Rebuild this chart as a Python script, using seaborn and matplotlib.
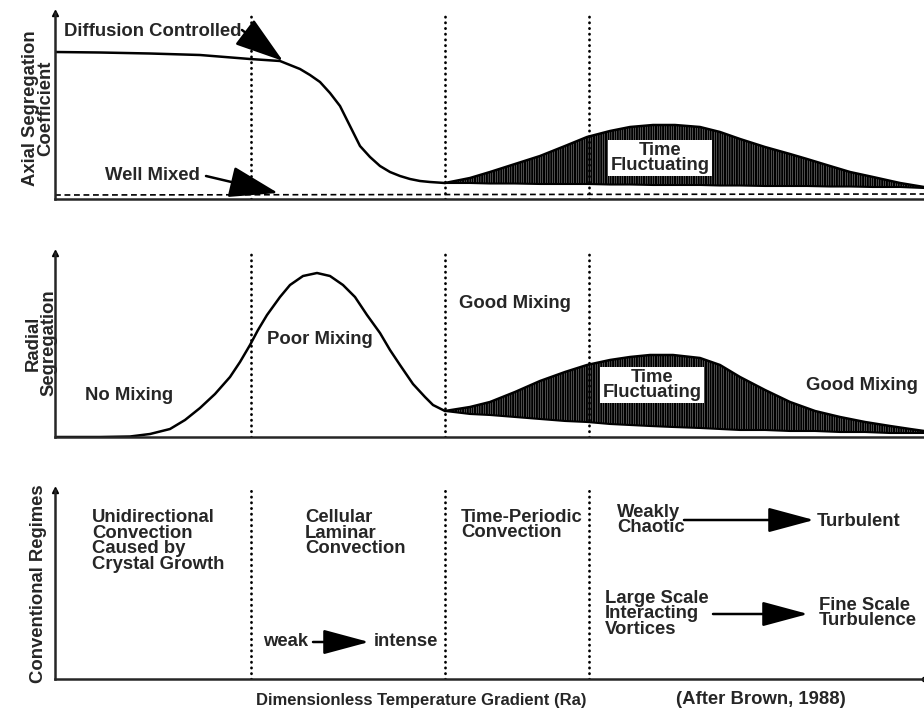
import numpy as np
import pandas as pd
import seaborn as sns
import matplotlib.pyplot as plt

sns.set_style('white')
plt.rcParams['font.family'] = ['Liberation Sans', 'DejaVu Sans']
plt.rcParams['font.weight'] = 'bold'
plt.rcParams['hatch.linewidth'] = 1.5

# --- data (x = Ra position, y = height above each baseline) ---
axial_x = [55, 100, 150, 200, 250, 280, 300, 310, 320, 330, 340, 345, 350, 355, 360,
           370, 380, 390, 400, 410, 420, 430, 445]
axial_y = [147, 146.5, 145.5, 144, 140, 138, 130, 124, 117, 106, 93, 83, 73, 63, 53,
           42, 33, 27, 23, 20, 18, 17, 16]
well_mixed_x = [55, 924]
well_mixed_y = [4, 5]

axial_fluct_x = [445, 470, 490, 515, 540, 565, 587, 610, 630, 653, 675, 700, 720, 740,
                 765, 790, 807, 830, 850, 873, 900, 924]
axial_fluct_hi = [16, 21, 27, 35, 43, 53, 62, 68, 72, 74, 74, 72, 67, 60, 52, 45, 40,
                  33, 27, 22, 16, 12]
axial_fluct_lo = [16, 16, 15.5, 15.5, 15, 15, 15, 14.5, 14.5, 14, 14, 14, 13.5, 13.5,
                  13, 13, 13, 12.5, 12.5, 12, 12, 11]

radial_x = [55, 100, 130, 150, 170, 185, 200, 215, 230, 240, 250, 258, 267, 280, 290,
            303, 317, 330, 343, 355, 367, 380, 390, 400, 413, 425, 433, 445]
radial_y = [0, 0, 0.5, 3, 8, 17, 29, 43, 60, 75, 92, 107, 122, 140, 152, 161, 164, 161,
            152, 140, 122, 104, 87, 72, 53, 40, 32, 26]

radial_fluct_x = [445, 470, 490, 515, 540, 565, 587, 610, 630, 650, 673, 700, 720, 740,
                  765, 790, 815, 840, 865, 890, 910, 924]
radial_fluct_hi = [26, 30, 35, 45, 56, 65, 72, 77, 80, 82, 82, 79, 72, 60, 47, 35, 26,
                   20, 15, 11, 8, 6]
radial_fluct_lo = [26, 23, 22, 20, 18, 16, 15, 13, 12, 11, 10, 9, 8, 7, 7, 6, 6, 5, 5,
                   4, 4, 4]

regime_bounds = [251, 445, 589]

# panels: (baseline pixel, top pixel)
panels = {'axial': (199, 13), 'radial': (437, 253), 'regime': (679, 490)}

W, H = 924, 709
fig = plt.figure(figsize=(W / 100, H / 100), dpi=100)

axes = {}
for name, (base, top) in panels.items():
    ax = fig.add_axes([55 / W, (H - base) / H, (W - 55) / W, (base - top) / H])
    ax.set_xlim(55, 924)
    ax.set_ylim(0, base - top)
    sns.despine(ax=ax)
    ax.spines['left'].set_linewidth(1.8)
    ax.spines['bottom'].set_linewidth(1.8)
    ax.set_xticks([])
    ax.set_yticks([])
    ax.patch.set_alpha(0)
    ax.plot([55], [base - top], marker='^', ms=5, color='k', clip_on=False)
    for xb in regime_bounds:
        ax.axvline(xb, color='k', lw=2, ls=(0, (0.1, 1.95)), dash_capstyle='round')
    axes[name] = ax


def txt(name, x, py, s, **kw):
    base = panels[name][0]
    kw.setdefault('fontsize', 13.3)
    kw.setdefault('va', 'center')
    kw.setdefault('linespacing', 0.88)
    return axes[name].text(x, base - py, s, fontweight='bold', **kw)


def arrow(name, x0, py0, x1, py1, hl=1.4, hw=0.45, ms=22):
    base = panels[name][0]
    axes[name].annotate('', xy=(x1, base - py1), xytext=(x0, base - py0),
                        arrowprops=dict(arrowstyle=f'-|>,head_length={hl},head_width={hw}',
                                        mutation_scale=ms, lw=1.8, color='k',
                                        shrinkA=0, shrinkB=0))


def fluct(ax, x, lo, hi):
    ax.fill_between(x, lo, hi, facecolor='white', edgecolor='k',
                    hatch='|||||||', linewidth=0)
    ax.plot(x, hi, color='k', lw=1.8)
    ax.plot(x, lo, color='k', lw=1.5)


# --- top panel: axial segregation ---
ax = axes['axial']
sns.lineplot(x=axial_x, y=axial_y, ax=ax, color='k', lw=1.8)
sns.lineplot(x=well_mixed_x, y=well_mixed_y, ax=ax, color='k', lw=1.2, ls=(0, (3.5, 2.2)))
fluct(ax, axial_fluct_x, axial_fluct_lo, axial_fluct_hi)
txt('axial', 660, 158, 'Time\nFluctuating', ha='center',
    bbox=dict(facecolor='white', edgecolor='none', pad=1.5))
txt('axial', 64, 31, 'Diffusion Controlled')
arrow('axial', 242, 30, 283, 61)
txt('axial', 105, 175, 'Well Mixed')
arrow('axial', 206, 176, 278, 193)
txt('axial', 38, 108, 'Axial Segregation\nCoefficient', ha='center', rotation=90)

# --- middle panel: radial segregation ---
ax = axes['radial']
sns.lineplot(x=radial_x, y=radial_y, ax=ax, color='k', lw=1.8)
fluct(ax, radial_fluct_x, radial_fluct_lo, radial_fluct_hi)
txt('radial', 652, 385, 'Time\nFluctuating', ha='center',
    bbox=dict(facecolor='white', edgecolor='none', pad=1.5))
txt('radial', 85, 395, 'No Mixing')
txt('radial', 267, 340, 'Poor Mixing')
txt('radial', 459, 304, 'Good Mixing')
txt('radial', 806, 385, 'Good Mixing')
txt('radial', 41, 343, 'Radial\nSegregation', ha='center', rotation=90)

# --- bottom panel: convection regimes ---
ax = axes['regime']
ax.plot([924], [0], marker='o', ms=3, color='k', clip_on=False)
txt('regime', 92, 541, 'Unidirectional\nConvection\nCaused by\nCrystal Growth')
txt('regime', 305, 533, 'Cellular\nLaminar\nConvection')
txt('regime', 263, 642, 'weak')
arrow('regime', 313, 642, 369, 642, hl=1.3, hw=0.35)
txt('regime', 374, 642, 'intense')
txt('regime', 461, 525, 'Time-Periodic\nConvection')
txt('regime', 617, 520, 'Weakly\nChaotic')
arrow('regime', 684, 520, 814, 520, hl=1.3, hw=0.35)
txt('regime', 817, 521, 'Turbulent')
txt('regime', 605, 614, 'Large Scale\nInteracting\nVortices')
arrow('regime', 713, 614, 808, 614, hl=1.3, hw=0.35)
txt('regime', 819, 613, 'Fine Scale\nTurbulence')
txt('regime', 39, 584, 'Conventional Regimes', ha='center', rotation=90)
txt('regime', 421, 700, 'Dimensionless Temperature Gradient (Ra)', ha='center',
    fontsize=12)
txt('regime', 761, 699, '(After Brown, 1988)', ha='center')

fig.savefig('out.png', dpi=100)
